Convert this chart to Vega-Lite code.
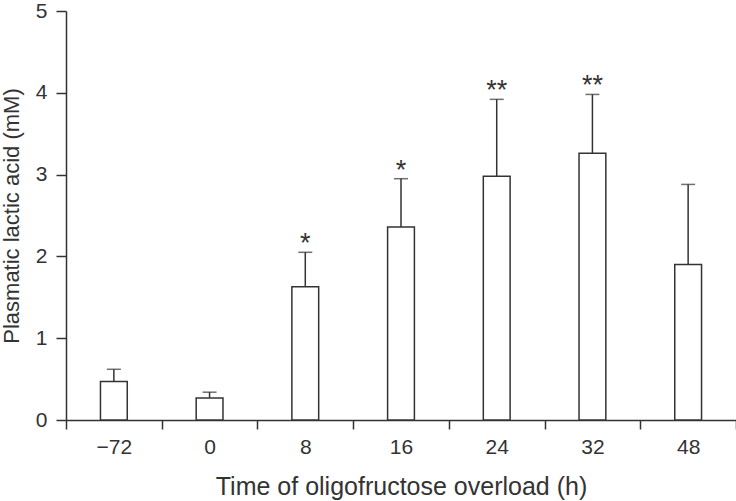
{
  "$schema": "https://vega.github.io/schema/vega-lite/v6.json",
  "width": 670,
  "height": 409,
  "autosize": {"type": "none"},
  "padding": {"left": 66, "top": 11, "right": 0, "bottom": 81},
  "background": "white",
  "config": {
    "view": {"stroke": null},
    "font": "Liberation Sans",
    "axis": {
      "domainColor": "#333333",
      "domainWidth": 1.5,
      "tickColor": "#333333",
      "tickWidth": 1.5,
      "tickSize": 9,
      "labelFont": "Liberation Sans",
      "labelFontSize": 21,
      "labelColor": "#333333",
      "titleFont": "Liberation Sans",
      "titleFontWeight": "normal",
      "titleColor": "#333333",
      "grid": false
    }
  },
  "data": {
    "values": [
      {"time": "−72", "mean": 0.47, "upper": 0.62, "sig": ""},
      {"time": "0", "mean": 0.27, "upper": 0.34, "sig": ""},
      {"time": "8", "mean": 1.63, "upper": 2.05, "sig": "*"},
      {"time": "16", "mean": 2.36, "upper": 2.95, "sig": "*"},
      {"time": "24", "mean": 2.98, "upper": 3.92, "sig": "**"},
      {"time": "32", "mean": 3.26, "upper": 3.98, "sig": "**"},
      {"time": "48", "mean": 1.9, "upper": 2.88, "sig": ""}
    ]
  },
  "encoding": {
    "x": {
      "field": "time",
      "type": "nominal",
      "sort": null,
      "scale": {"paddingInner": 0, "paddingOuter": 0},
      "axis": {
        "title": "Time of oligofructose overload (h)",
        "titleFontSize": 25,
        "labelAngle": 0,
        "tickBand": "extent",
        "labelPadding": 7,
        "titlePadding": 17
      }
    }
  },
  "layer": [
    {
      "mark": {"type": "rule", "stroke": "#333333", "strokeWidth": 1.5},
      "encoding": {
        "y": {"field": "mean", "type": "quantitative"},
        "y2": {"field": "upper"}
      }
    },
    {
      "mark": {"type": "tick", "orient": "horizontal", "size": 14, "thickness": 1.5, "color": "#333333"},
      "encoding": {
        "y": {"field": "upper", "type": "quantitative"}
      }
    },
    {
      "mark": {"type": "bar", "fill": "white", "stroke": "#333333", "strokeWidth": 1.5, "width": {"band": 0.28}},
      "encoding": {
        "y": {
          "field": "mean",
          "type": "quantitative",
          "scale": {"domain": [0, 5], "nice": false},
          "axis": {
            "title": "Plasmatic lactic acid (mM)",
            "titleFontSize": 22,
            "values": [0, 1, 2, 3, 4, 5],
            "format": "d",
            "tickSize": 10,
            "labelPadding": 9,
            "titlePadding": 12
          }
        }
      }
    },
    {
      "mark": {"type": "text", "fontSize": 27, "color": "#333333", "baseline": "alphabetic", "dy": 0},
      "encoding": {
        "y": {"field": "upper", "type": "quantitative"},
        "text": {"field": "sig"}
      }
    }
  ]
}
